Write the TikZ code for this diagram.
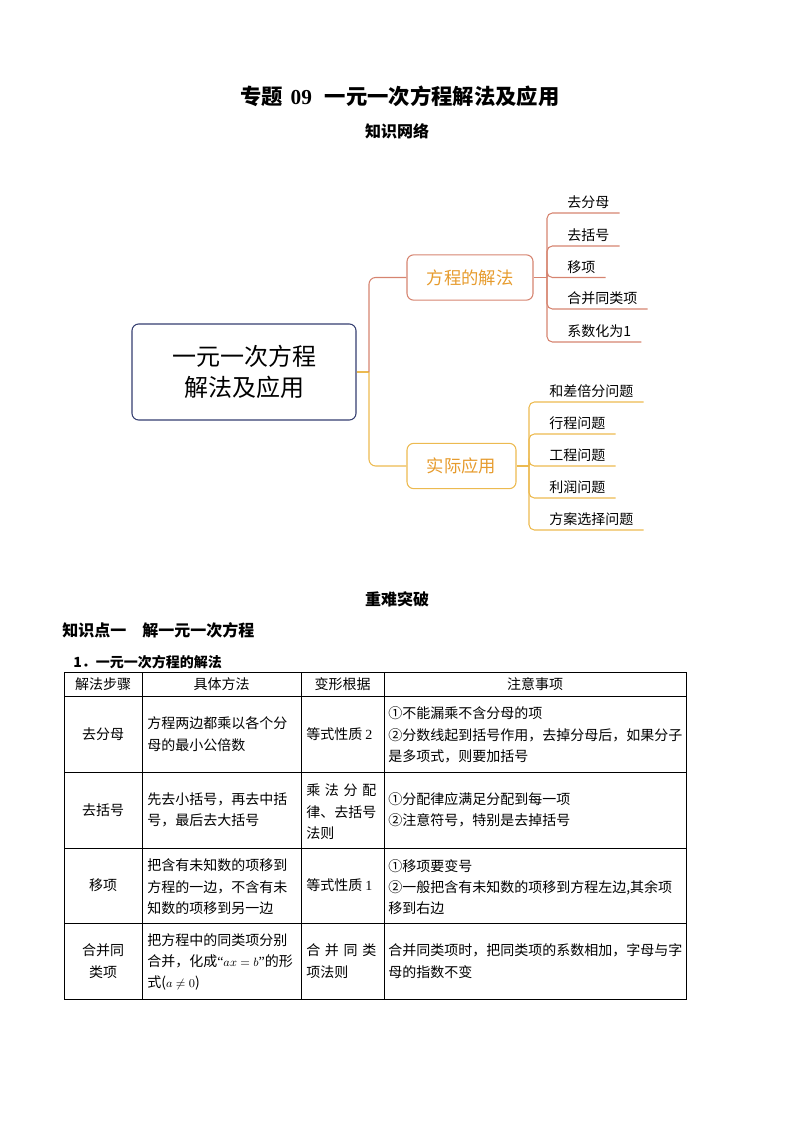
\documentclass[tikz,border=0pt]{standalone}
\usepackage{fontspec}
\setmainfont{Noto Sans CJK SC}
\newfontfamily\serifnum{Liberation Serif}
\definecolor{rootline}{RGB}{52,62,112}
\definecolor{solveline}{RGB}{214,132,112}
\definecolor{applyline}{RGB}{236,186,80}
\definecolor{branchtext}{RGB}{230,155,45}
\begin{document}
\begin{tikzpicture}[x=0.75pt,y=-0.75pt]
    \tikzset{
      heading/.style={inner sep=0pt,font=\fontsize{#1}{#1}\selectfont\bfseries},
      rootbox/.style={draw=rootline,line width=0.8pt,rounded corners=5pt,
        minimum width=168pt,minimum height=72pt,align=center,
        font=\fontsize{18}{23}\selectfont},
      branchbox/.style={draw=#1,line width=0.8pt,rounded corners=5pt,
        minimum height=34pt,text=branchtext,font=\fontsize{13}{15}\selectfont},
      leaf/.style={anchor=south west,inner xsep=7.5pt,inner ysep=3pt,
        font=\fontsize{10.5}{12}\selectfont},
      cell/.style={inner sep=0pt,align=left,font=\fontsize{10.5}{16}\selectfont},
      grid/.style={line width=0.6pt}
    }
        \useasboundingbox (0,0) rectangle (794,1123);

        %TITLE
        \node[heading=16] (title) at (400,96) {专题\hspace{0.35em}{\serifnum 09}\hspace{0.6em}一元一次方程解法及应用};
        \node[heading=12] (net) at (397,131) {知识网络};

        %MIND MAP
        \node[rootbox] (root) at (244,372) {一元一次方程\\解法及应用};
        \node[branchbox=solveline,minimum width=94.5pt] (solve) at (470,277.5) {方程的解法};
        \node[branchbox=applyline,minimum width=81.75pt] (apply) at (461.5,466) {实际应用};

        \coordinate (jroot) at (369,372);
        \draw[applyline,line width=0.8pt] (root.east) -- (jroot);
        \draw[solveline,line width=0.8pt,rounded corners=5pt] (jroot) |- (solve.west);
        \draw[applyline,line width=0.8pt,rounded corners=5pt] (jroot) |- (apply.west);

        \coordinate (jsolve) at (547,277.5);
        \draw[solveline,line width=0.8pt] (solve.east) -- (jsolve);
        \foreach \name/\txt/\y in {s1/去分母/213,s2/去括号/246,s3/移项/277.5,s4/合并同类项/309,s5/系数化为1/342} {
          \node[leaf] (\name) at (557,\y) {\txt};
          \draw[solveline,line width=0.8pt,rounded corners=4pt] (jsolve) |- (\name.south east);
        }

        \coordinate (japply) at (529,466);
        \draw[applyline,line width=0.8pt] (apply.east) -- (japply);
        \foreach \name/\txt/\y in {a1/和差倍分问题/402,a2/行程问题/434,a3/工程问题/466,a4/利润问题/498,a5/方案选择问题/530} {
          \node[leaf] (\name) at (539,\y) {\txt};
          \draw[applyline,line width=0.8pt,rounded corners=4pt] (japply) |- (\name.south east);
        }

        %HEADINGS
        \node[heading=12] (hard) at (397,599) {重难突破};
        \node[heading=12,anchor=west] (kp) at (62,630) {知识点一　解一元一次方程};
        \node[heading=10.5,anchor=west] (sub) at (73,662) {1．一元一次方程的解法};

        %TABLE
        \draw[grid] (64,672) rectangle (686,999);
        \foreach \x in {142,301,384} \draw[grid] (\x,672) -- (\x,999);
        \foreach \y in {696,772,848,923} \draw[grid] (64,\y) -- (686,\y);

        \node[cell] (h1) at (103,684) {解法步骤};
        \node[cell] (h2) at (221.5,684) {具体方法};
        \node[cell] (h3) at (342.5,684) {变形根据};
        \node[cell] (h4) at (535,684) {注意事项};

        \node[cell] (r1a) at (103,734) {去分母};
        \node[cell,anchor=west] (r1b) at (147,734) {方程两边都乘以各个分\\母的最小公倍数};
        \node[cell,anchor=west] (r1c) at (306,734) {等式性质 {\serifnum 2}};
        \node[cell,anchor=west] (r1d) at (388,735) {①不能漏乘不含分母的项\\②分数线起到括号作用，去掉分母后，如果分子\\是多项式，则要加括号};

        \node[cell] (r2a) at (103,810) {去括号};
        \node[cell,anchor=west] (r2b) at (147,810) {先去小括号，再去中括\\号，最后去大括号};
        \node[cell,anchor=west] (r2c) at (306,812) {\makebox[52.5pt][s]{乘 法 分 配}\\律、去括号\\法则};
        \node[cell,anchor=west] (r2d) at (388,810) {①分配律应满足分配到每一项\\②注意符号，特别是去掉括号};

        \node[cell] (r3a) at (103,885.5) {移项};
        \node[cell,anchor=west] (r3b) at (147,887) {把含有未知数的项移到\\方程的一边，不含有未\\知数的项移到另一边};
        \node[cell,anchor=west] (r3c) at (306,885.5) {等式性质 {\serifnum 1}};
        \node[cell,anchor=west] (r3d) at (388,887) {①移项要变号\\②一般把含有未知数的项移到方程左边,其余项\\移到右边};

        \node[cell,align=center] (r4a) at (103,961) {合并同\\类项};
        \node[cell,anchor=west] (r4b) at (147,962) {把方程中的同类项分别\\合并，化成{\serifnum“}{\fontsize{9}{9}\selectfont$ax=b$}{\serifnum”}的形\\式({\fontsize{9}{9}\selectfont$a\neq0$})};
        \node[cell,anchor=west] (r4c) at (306,961) {\makebox[52.5pt][s]{合 并 同 类}\\项法则};
        \node[cell,anchor=west] (r4d) at (388,961) {合并同类项时，把同类项的系数相加，字母与字\\母的指数不变};
    \end{tikzpicture}
\end{document}
